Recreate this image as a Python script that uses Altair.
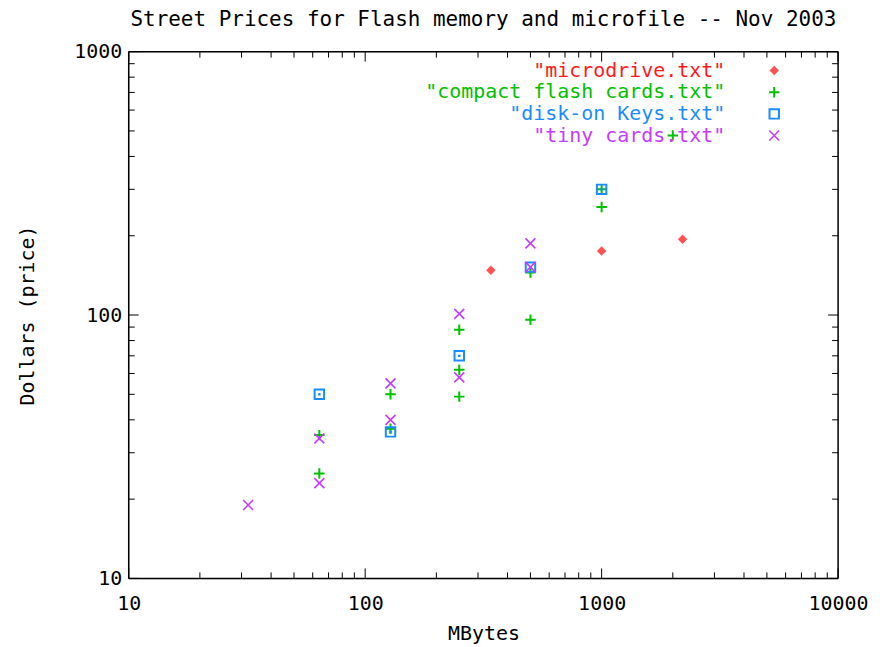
import altair as alt
import pandas as pd

# ---- data ----
micro_mb = [340, 1000, 2200]
micro_usd = [148, 175, 194]

cf_mb = [64, 64, 128, 128, 250, 250, 250, 500, 500, 1000, 1000, 2000]
cf_usd = [25, 35, 50, 37, 88, 62, 49, 145, 96, 300, 257, 480]

dok_mb = [64, 128, 250, 500, 1000]
dok_usd = [50, 36, 70, 152, 300]

tiny_mb = [32, 64, 64, 128, 128, 250, 250, 500, 500]
tiny_usd = [19, 34, 23, 55, 40, 101, 58, 187, 152]

series_names = ['"microdrive.txt"', '"compact flash cards.txt"',
                '"disk-on Keys.txt"', '"tiny cards.txt"']
colors = ["#ff1a1a", "#00c000", "#1a8cff", "#c43cff"]

x_major = [10, 100, 1000, 10000]
x_minor = [20, 30, 40, 50, 60, 70, 80, 90,
           200, 300, 400, 500, 600, 700, 800, 900,
           2000, 3000, 4000, 5000, 6000, 7000, 8000, 9000]
y_major = [10, 100, 1000]
y_minor = [20, 30, 40, 50, 60, 70, 80, 90,
           200, 300, 400, 500, 600, 700, 800, 900]

title_text = "Street Prices for Flash memory and microfile -- Nov 2003"
x_title = "MBytes"
y_title = "Dollars (price)"

# ---- styling ----
FONT = "DejaVu Sans Mono"
FS = 20
W, H = 711, 528
MAJ, MIN = 10, 6

PLUS = "M-1,0L1,0M0,-1L0,1"
XMARK = "M-1,-1L1,1M-1,1L1,-1"

xscale = alt.Scale(type="log", domain=[10, 10000], nice=False)
yscale = alt.Scale(type="log", domain=[10, 1000], nice=False)

X = alt.X("mb:Q", scale=xscale,
          axis=alt.Axis(values=x_major, format="d", ticks=False, tickSize=0,
                        domain=False, grid=False, labelFont=FONT, labelFontSize=FS,
                        labelColor="black", labelPadding=15, labelFlush=False,
                        labelOverlap=False,
                        title=x_title, titleFont=FONT, titleFontSize=FS,
                        titleFontWeight="normal", titleColor="black",
                        titleX=W / 2, titleY=55, titleBaseline="middle"))
Y = alt.Y("usd:Q", scale=yscale,
          axis=alt.Axis(values=y_major, format="d", ticks=False, tickSize=0,
                        domain=False, grid=False, labelFont=FONT, labelFontSize=FS,
                        labelColor="black", labelPadding=7, labelFlush=False,
                        labelOverlap=False,
                        title=y_title, titleFont=FONT, titleFontSize=FS,
                        titleFontWeight="normal", titleColor="black",
                        titleX=-101, titleY=H / 2, titleBaseline="middle",
                        titleAngle=270, titleAlign="center"))

layers = []

# frame
one = pd.DataFrame({"a": [0]})
frame = alt.Chart(one).mark_rule(color="black", strokeWidth=1.5)
layers.append(frame.encode(x=alt.value(0), x2=alt.value(W), y=alt.value(0)))
layers.append(frame.encode(x=alt.value(0), x2=alt.value(W), y=alt.value(H)))
layers.append(frame.encode(y=alt.value(0), y2=alt.value(H), x=alt.value(0)))
layers.append(frame.encode(y=alt.value(0), y2=alt.value(H), x=alt.value(W)))

# tick marks (inward, mirrored on all four sides)
for vals, L in ((x_major, MAJ), (x_minor, MIN)):
    d = pd.DataFrame({"mb": vals})
    base = alt.Chart(d).mark_rule(color="black", strokeWidth=1)
    layers.append(base.encode(x=X, y=alt.value(H), y2=alt.value(H - L)))
    layers.append(base.encode(x=X, y=alt.value(0), y2=alt.value(L)))
for vals, L in ((y_major, MAJ), (y_minor, MIN)):
    d = pd.DataFrame({"usd": vals})
    base = alt.Chart(d).mark_rule(color="black", strokeWidth=1)
    layers.append(base.encode(y=Y, x=alt.value(0), x2=alt.value(L)))
    layers.append(base.encode(y=Y, x=alt.value(W), x2=alt.value(W - L)))

# data series
micro_df = pd.DataFrame({"mb": micro_mb, "usd": micro_usd})
cf_df = pd.DataFrame({"mb": cf_mb, "usd": cf_usd})
dok_df = pd.DataFrame({"mb": dok_mb, "usd": dok_usd})
tiny_df = pd.DataFrame({"mb": tiny_mb, "usd": tiny_usd})

marks = [
    dict(shape="diamond", filled=True, size=90, color=colors[0], opacity=0.75),
    dict(shape=PLUS, filled=False, size=110, color=colors[1], strokeWidth=2, opacity=1),
    dict(shape="square", filled=False, size=90, color=colors[2], strokeWidth=2, opacity=1),
    dict(shape=XMARK, filled=False, size=100, color=colors[3], strokeWidth=1.6, opacity=1),
]

for df, mk in zip([micro_df, cf_df, dok_df, tiny_df], marks):
    layers.append(alt.Chart(df).mark_point(**mk).encode(x=X, y=Y))
    if mk["shape"] == "square":
        layers.append(alt.Chart(df).mark_point(shape="square", filled=True, size=6,
                                               color=colors[2], opacity=1).encode(x=X, y=Y))

# legend (gnuplot style: right-aligned text, symbol to the right)
LEG_TX, LEG_SX, LEG_Y0, LEG_DY = 598, 647, 19, 21.7
for i, (name, mk) in enumerate(zip(series_names, marks)):
    yy = LEG_Y0 + i * LEG_DY
    layers.append(alt.Chart(one).mark_text(
        text=name, align="right", baseline="middle", font=FONT, fontSize=FS,
        color=colors[i]).encode(x=alt.value(LEG_TX), y=alt.value(yy)))
    layers.append(alt.Chart(one).mark_point(**mk).encode(
        x=alt.value(LEG_SX), y=alt.value(yy)))

chart = alt.layer(*layers).properties(
    width=W, height=H,
    title=alt.TitleParams(title_text, font=FONT, fontSize=21, fontWeight="normal",
                          color="black", anchor="middle", offset=12),
    autosize=alt.AutoSizeParams(type="none"),
    padding={"left": 121, "top": 43, "right": 34, "bottom": 67},
).configure_view(stroke=None).configure(background="white")

chart.save("out.html", embed_options={"renderer": "svg", "actions": False})
